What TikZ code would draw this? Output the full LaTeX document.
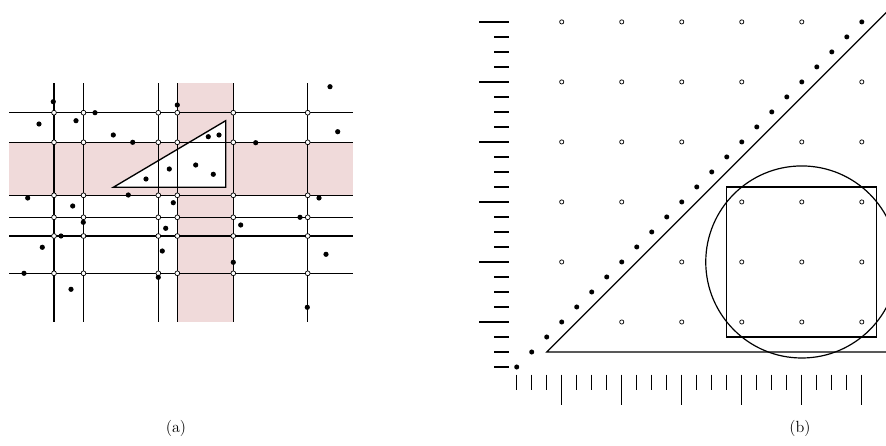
\documentclass[tikz,border=0pt]{standalone}
\definecolor{bandpink}{RGB}{240,218,218}
\begin{document}
\begin{tikzpicture}[x=0.025cm,y=-0.025cm,
  gridline/.style={line width=0.95pt},
  shapeline/.style={line width=0.85pt},
  opendot/.style={draw=black,fill=white,line width=0.5pt},
  fulldot/.style={fill=black},
  lbl/.style={font=\fontsize{11.5}{13}\selectfont}]
\useasboundingbox (0,0) rectangle (886,446);
% ---------------- (a) ----------------
\fill[bandpink] (9.3,142.3) rectangle (352.7,195.3);
\fill[bandpink] (177.3,83.3) rectangle (233.3,321.7);
\filldraw[fill=white,gridline] (113.3,187.3) -- (225.7,120.7) -- (225.7,187.3) -- cycle;
\foreach \x in {54,83.5,158.3,177.3,233.3,307.7}
  \draw[gridline] (\x,83.3) -- (\x,321.7);
\foreach \y in {112.7,142.3,195.3,217.3,236,273.3}
  \draw[gridline] (9.3,\y) -- (352.7,\y);
\foreach \x in {54,83.5,158.3,177.3,233.3,307.7}
  \foreach \y in {112.7,142.3,195.3,217.3,236,273.3}
    \draw[opendot] (\x,\y) circle[radius=2.4];
\foreach \p in {(53.3,101.7),(95,112.7),(39,124),(76,120.7),(113.3,135),
  (132.7,142.3),(146,179),(169.3,169),(177.3,105),(27.7,198),(128.3,195),
  (330,86.7),(337.7,131.7),(208.3,136.7),(219,135),(255.7,142.7),(195.7,165),
  (213.3,174.3),(319,198),(72.7,206),(173.3,202.7),(83.3,222.3),(61,236),
  (165.7,228.3),(42.3,247.3),(162.3,251),(24,273.3),(158.3,277.3),(71,289.3),
  (300,217.3),(240.7,225),(326,254.3),(233.3,262.3),(307.3,307.3)}
  \fill[fulldot] \p circle[radius=2.6];
\node[lbl] (la) at (176,428) {(a)};
% ---------------- (b) ----------------
\begin{scope}
\clip (0,0) rectangle (886,446);
\begin{scope}[shift={(501.7,382)},x=1.5cm,y=1.5cm]
  \foreach \k in {1,...,24}{
    \pgfmathtruncatemacro{\m}{mod(\k,4)}
    \ifnum\m=0
      \draw[shapeline] (-0.375,\k/4) -- (0.125,\k/4);
      \draw[shapeline] (\k/4,0.125) -- (\k/4,-0.375);
    \else
      \draw[shapeline] (-0.125,\k/4) -- (0.125,\k/4);
      \draw[shapeline] (\k/4,0.125) -- (\k/4,-0.125);
    \fi
  }
  \draw[shapeline] (6.7,0.5) -- (0.75,0.5) -- (6.7,6.45);
  \draw[shapeline] (3.75,0.75) rectangle (6.25,3.25);
  \draw[shapeline] (5,2) circle[radius=1.6];
  \foreach \i in {1,...,6}
    \foreach \j in {1,...,6}{
      \ifnum\i=\j\else
        \draw[opendot] (\i,\j) circle[radius=0.035];
      \fi
    }
  \foreach \k in {1,...,24}
    \fill[fulldot] (\k/4,\k/4) circle[radius=0.042];
\end{scope}
\end{scope}
\node[lbl] (lb) at (800,428) {(b)};
\end{tikzpicture}
\end{document}
